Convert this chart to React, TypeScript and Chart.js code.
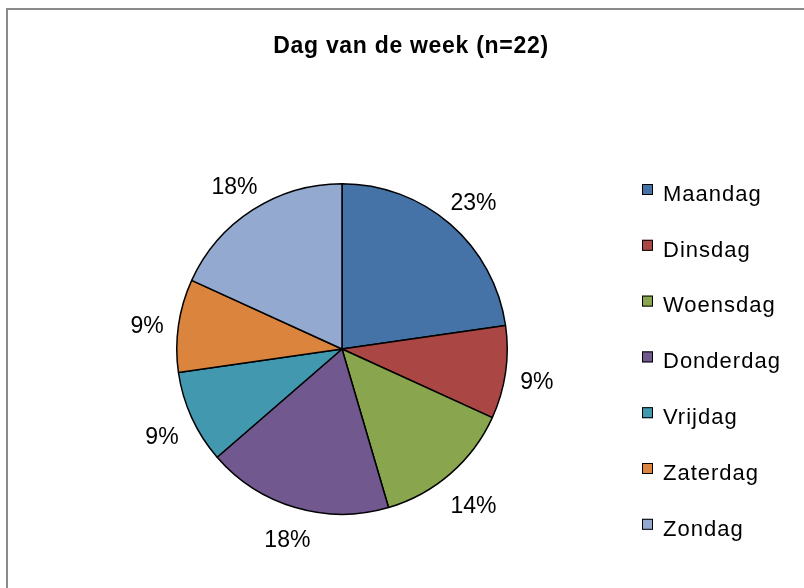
import React, { useEffect, useRef } from "react";
import { Chart, registerables } from "chart.js";

Chart.register(...registerables);

const titleText = "Dag van de week (n=22)";
const categories = ["Maandag", "Dinsdag", "Woensdag", "Donderdag", "Vrijdag", "Zaterdag", "Zondag"];
const counts = [5, 2, 3, 4, 2, 2, 4];
const colors = ["#4572A7", "#AA4643", "#89A54E", "#71588F", "#4198AF", "#DB843D", "#93A9CF"];

const FONT = '"Liberation Sans", Arial, Helvetica, sans-serif';

const framePlugin = {
  id: "frame",
  beforeDraw(chart: any) {
    const ctx = chart.ctx;
    ctx.save();
    ctx.fillStyle = "#ffffff";
    ctx.fillRect(0, 0, chart.width, chart.height);
    ctx.strokeStyle = "#8a8a8a";
    ctx.lineWidth = 2;
    ctx.beginPath();
    ctx.moveTo(7, chart.height);
    ctx.lineTo(7, 9);
    ctx.lineTo(chart.width, 9);
    ctx.stroke();
    ctx.restore();
  },
};

const titlePlugin = {
  id: "customTitle",
  afterDraw(chart: any) {
    const ctx = chart.ctx;
    ctx.save();
    ctx.font = `bold 23px ${FONT}`;
    (ctx as any).letterSpacing = "0.7px";
    ctx.fillStyle = "#000";
    ctx.textAlign = "center";
    ctx.textBaseline = "alphabetic";
    ctx.fillText(titleText, 411, 53);
    ctx.restore();
  },
};

const legendPlugin = {
  id: "sideLegend",
  afterDraw(chart: any) {
    const ctx = chart.ctx;
    const labels = chart.data.labels as string[];
    const bg = chart.data.datasets[0].backgroundColor as string[];
    ctx.save();
    ctx.font = `22px ${FONT}`;
    (ctx as any).letterSpacing = "1px";
    ctx.textAlign = "left";
    ctx.textBaseline = "alphabetic";
    labels.forEach((lab, i) => {
      const top = 184 + i * 55.8;
      ctx.fillStyle = bg[i];
      ctx.fillRect(642, top, 11, 11);
      ctx.strokeStyle = "#000";
      ctx.lineWidth = 1;
      ctx.strokeRect(642.5, top + 0.5, 10, 10);
      ctx.fillStyle = "#000";
      ctx.fillText(lab, 663, top + 16.8);
    });
    ctx.restore();
  },
};

const pctPlugin = {
  id: "pctLabels",
  afterDatasetsDraw(chart: any) {
    const ctx = chart.ctx;
    const meta = chart.getDatasetMeta(0);
    const data = chart.data.datasets[0].data as number[];
    const total = data.reduce((a, b) => a + b, 0);
    ctx.save();
    ctx.font = `23px ${FONT}`;
    ctx.fillStyle = "#000";
    ctx.textAlign = "center";
    ctx.textBaseline = "middle";
    meta.data.forEach((arc: any, i: number) => {
      const { x, y, startAngle, endAngle, outerRadius } = arc.getProps(
        ["x", "y", "startAngle", "endAngle", "outerRadius"],
        true
      );
      const mid = (startAngle + endAngle) / 2;
      const ux = Math.cos(mid);
      const uy = Math.sin(mid);
      const txt = Math.round((data[i] / total) * 100) + "%";
      const w = ctx.measureText(txt).width;
      const d = outerRadius + 14 + (w / 2) * Math.abs(ux) + 8.5 * Math.abs(uy);
      ctx.fillText(txt, x + ux * d, y + uy * d + 6);
    });
    ctx.restore();
  },
};

export default function App() {
  const ref = useRef<HTMLCanvasElement | null>(null);
  useEffect(() => {
    if (!ref.current) return;
    const chart = new Chart(ref.current, {
      type: "pie",
      data: {
        labels: categories,
        datasets: [
          {
            data: counts,
            backgroundColor: colors,
            borderColor: "#000000",
            borderWidth: 1.5,
          },
        ],
      },
      options: {
        responsive: false,
        animation: false,
        devicePixelRatio: 1,
        layout: { padding: { left: 176, top: 183, right: 296, bottom: 73 } },
        plugins: {
          legend: { display: false },
          title: { display: false },
          tooltip: { enabled: false },
        },
      },
      plugins: [framePlugin, titlePlugin, legendPlugin, pctPlugin],
    });
    return () => chart.destroy();
  }, []);
  return (
    <div style={{ position: "fixed", left: 0, top: 0, width: 804, height: 588, background: "#fff" }}>
      <canvas ref={ref} width={804} height={588} style={{ display: "block" }} />
    </div>
  );
}
